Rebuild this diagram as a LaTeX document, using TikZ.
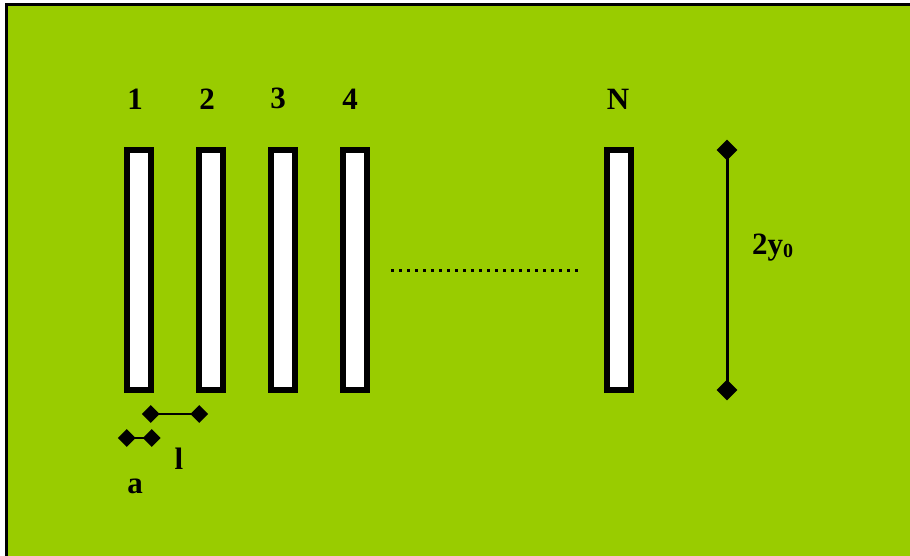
\documentclass[tikz,border=0pt]{standalone}
\usepackage{fontspec}
\setmainfont{Liberation Serif}
\usepackage{tikz}
\usetikzlibrary{positioning,shapes.geometric}
\definecolor{panel}{HTML}{99CC00}
\tikzset{slit/.style={
    % The shape:
    rectangle,
    % The size:
    minimum width=24pt,
    minimum height=240pt,
    inner sep=0pt,
    % The border:
    line width=5.5pt,
    draw=black,
    fill=white,
    },
    num/.style={
    inner sep=0pt,
    font=\fontsize{31}{31}\selectfont\bfseries,
    },
    tip/.style={
    diamond,
    aspect=1,
    fill=black,
    inner sep=0pt,
    minimum size=21pt,
    },
    smalltip/.style={
    tip,
    minimum size=18pt,
    },
}

\begin{document}
\begin{tikzpicture}[x=1pt, y=-1pt, node distance = 0pt and 42.5pt]
    \clip (0,0) rectangle (910,556);
    % background panel
    \fill[panel] (6.2,4.7) rectangle (930,580);
    \draw[line width=3pt] (930,4.7) -- (6.2,4.7) -- (6.2,580);

    \node (s1)  [slit] at (139,270)                {};
    \node (s2)  [slit,right=of s1]                 {};
    \node (s3)  [slit,right=of s2]                 {};
    \node (s4)  [slit,right=of s3]                 {};
    \node (sN)  [slit,right=234.5pt of s4]         {};

    \node (n1)  [num,above=38pt of s1,xshift=-4pt] {1};
    \node (n2)  [num,above=38pt of s2,xshift=-4pt] {2};
    \node (n3)  [num,above=38pt of s3,xshift=-5pt] {3};
    \node (n4)  [num,above=38pt of s4,xshift=-5pt] {4};
    \node (nN)  [num,above=38pt of sN,xshift=-1pt] {N};

    % dots between slit 4 and slit N
    \coordinate (dl) at (391,270);
    \coordinate (dr) at (581,270);
    \draw[line width=3pt,dash pattern=on 3pt off 5pt] (dl) -- (dr);

    % height of the slits
    \node (ht)  [tip] at (727,150) {};
    \node (hb)  [tip] at (727,390) {};
    \draw[line width=3pt] (ht.center) -- (hb.center);
    \node (hy)  [num,anchor=base west] at (752,254)
        {2y{\fontsize{20}{20}\selectfont\raisebox{-3pt}{0}}};

    % pitch and width
    \node (la)  [smalltip] at (150.7,414) {};
    \node (lb)  [smalltip] at (199.3,414) {};
    \draw[line width=2pt] (la.center) -- (lb.center);
    \node (aa)  [smalltip] at (126.7,438) {};
    \node (ab)  [smalltip] at (151.7,438) {};
    \draw[line width=2pt] (aa.center) -- (ab.center);
    \node (ll)  [num,anchor=base] at (179,469) {l};
    \node (al)  [num,anchor=base] at (135,493) {a};
  \end{tikzpicture}
\end{document}
